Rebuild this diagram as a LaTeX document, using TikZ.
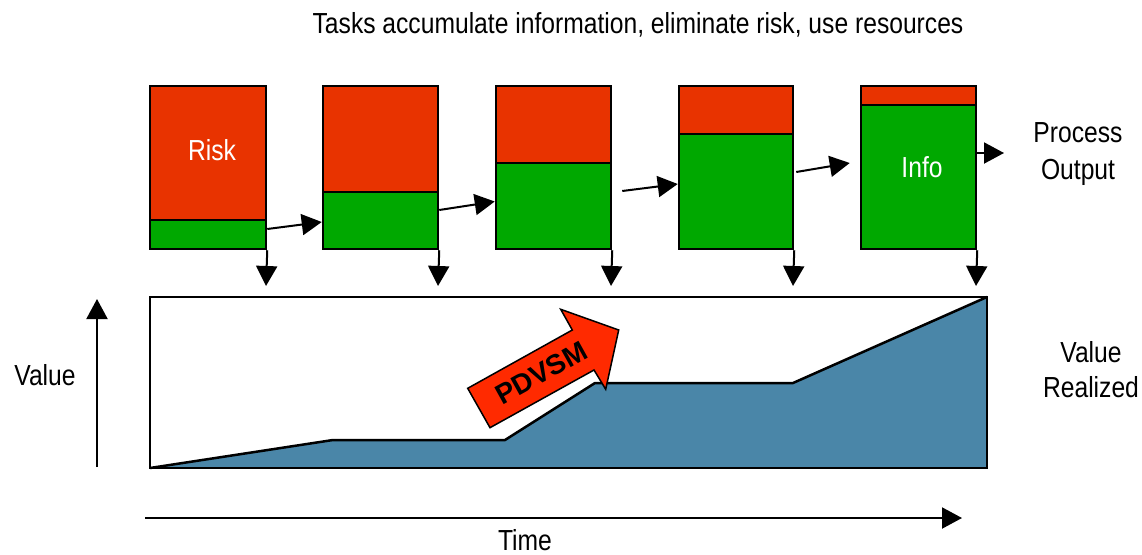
\documentclass[tikz,border=0pt]{standalone}
\usepackage{fontspec}
\setmainfont[FakeStretch=0.85]{Liberation Sans}
\newfontfamily\arrowfont{Liberation Sans}
\usetikzlibrary{arrows.meta,calc}
\definecolor{riskred}{RGB}{232,51,0}
\definecolor{infogreen}{RGB}{0,168,0}
\definecolor{valueblue}{RGB}{74,134,168}
\definecolor{pdvsmred}{RGB}{255,42,0}
\begin{document}
\begin{tikzpicture}[x=1pt,y=-1pt,
  lbl/.style={font=\fontsize{29}{34}\selectfont, inner sep=0pt, anchor=base},
  wlbl/.style={lbl, text=white},
  frame/.style={draw=black, line width=2.5pt, rectangle, inner sep=0pt},
  flow/.style={line width=2pt, -{Triangle[length=20pt,width=21pt]}},
  curve/.style={line width=2.5pt, line join=round},
  bigarrow/.style={fill=pdvsmred, draw=black, line width=1.5pt, line join=miter}]
\useasboundingbox (0,0) rectangle (1142,554);

% task boxes: risk (red) on top, information (green) below
\foreach \i/\l/\r/\s in {1/150/266/220, 2/323/438/192, 3/496/611/163, 4/679/793/134, 5/861/976/105} {
  \pgfmathsetmacro{\w}{\r-\l}
  \pgfmathsetmacro{\c}{(\l+\r)/2}
  \fill[riskred] (\l,86) rectangle (\r,\s);
  \fill[infogreen] (\l,\s) rectangle (\r,249);
  \draw[line width=2.5pt] (\l,\s) -- (\r,\s);
  \node[frame, minimum width=\w pt, minimum height=163pt] (t\i) at (\c,167.5) {};
  \coordinate (d\i) at (\r,286);
}

% value realized over time
\fill[valueblue] (150,468) -- (333,440) -- (505,440) -- (595,383) -- (793,383) -- (987,297) -- (987,468) -- cycle;
\draw[curve] (150,468) -- (333,440) -- (505,440) -- (595,383) -- (793,383) -- (987,297);
\node[frame, minimum width=837pt, minimum height=171pt] (vbox) at (568.5,382.5) {};

% flow between tasks
\draw[flow] (t1.east |- 0,229) -- (t2.west |- 0,222);
\draw[flow] (t2.east |- 0,210) -- (t3.west |- 0,201.5);
\draw[flow] ($(t3.east |- 0,191)+(10,0)$) -- (t4.west |- 0,184);
\draw[flow] ($(t4.east |- 0,172)+(2,0)$) -- ($(t5.west |- 0,163)+(-10,0)$);
\coordinate (out) at (1004,153);
\draw[flow] (t5.east |- 0,153) -- (out);

% each task delivers into the value curve
\foreach \i in {1,...,5} \draw[flow] (t\i.south east) -- (d\i);

% PDVSM arrow
\filldraw[bigarrow] (490,427.7) -- (467.7,388.3) -- (572.3,330) -- (560.7,309.3) -- (618.7,330) -- (605.7,389.3) -- (594,370) -- cycle;
\node[font=\arrowfont\fontsize{28}{30}\selectfont\bfseries, rotate=29, inner sep=0pt] (pdvsm) at (541.5,373) {PDVSM};

% axes
\coordinate (vb) at (97,467);
\coordinate (vt) at (97,299);
\draw[flow] (vb) -- (vt);
\coordinate (tl) at (145,518);
\coordinate (tr) at (962,518);
\draw[flow] (tl) -- (tr);

% labels
\node[lbl] (title) at (638,33) {Tasks accumulate information, eliminate risk, use resources};
\node[wlbl] (risk) at (212,160.7) {Risk};
\node[wlbl] (info) at (922,177.7) {Info};
\node[lbl] (proc) at (1078,142.7) {Process};
\node[lbl] (outp) at (1078,179) {Output};
\node[lbl] (vreal1) at (1091,362.3) {Value};
\node[lbl] (vreal2) at (1091,397.3) {Realized};
\node[lbl] (vaxis) at (45,385.7) {Value};
\node[lbl] (time) at (525,550) {Time};
\end{tikzpicture}
\end{document}
